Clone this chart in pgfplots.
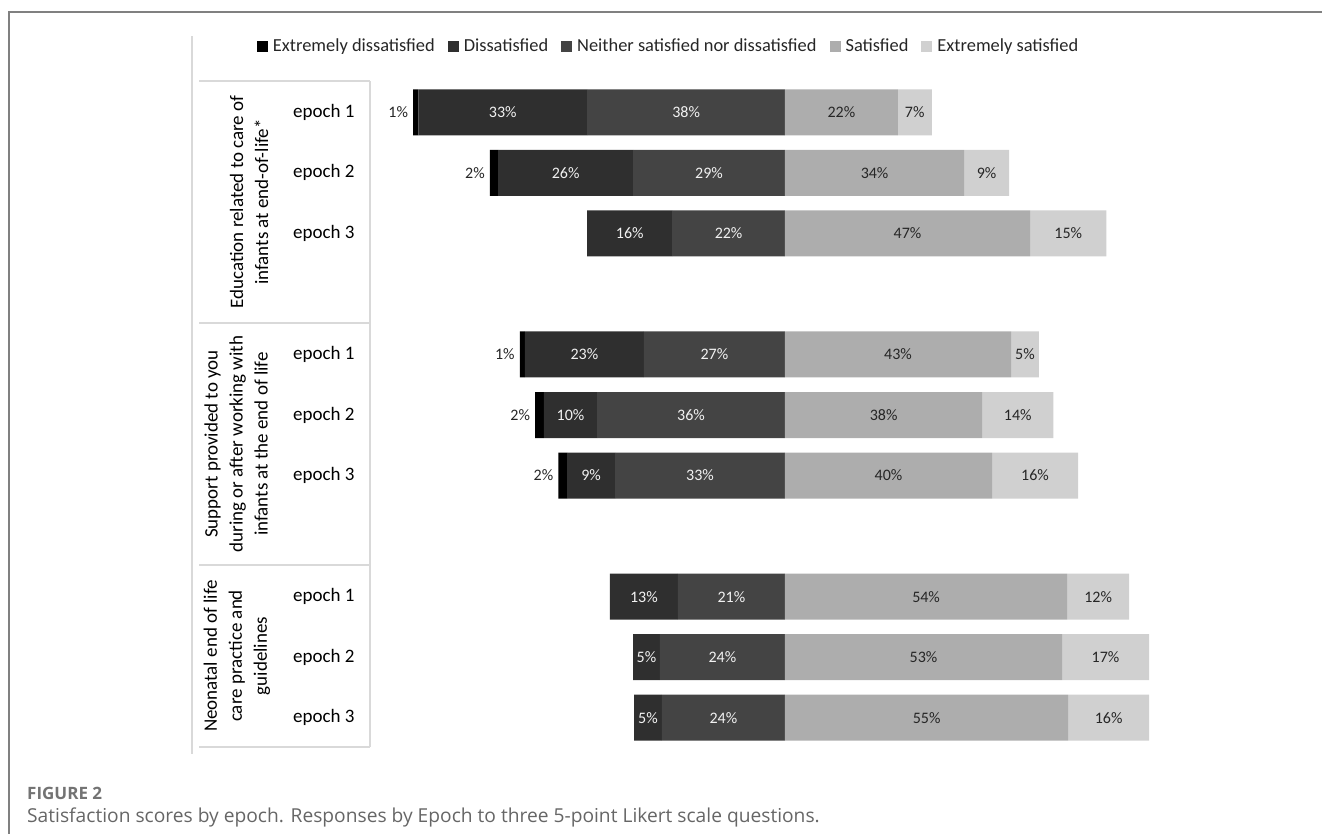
\documentclass[border=0pt]{standalone}
\usepackage{fontspec}
\setmainfont{Carlito}
\newfontfamily\capfont{Open Sans}
\usepackage{pgfplots}
\usepackage{pgfplotstable}
\pgfplotsset{compat=1.18}

\definecolor{cExd}{HTML}{000000}
\definecolor{cDis}{HTML}{2F2F2F}
\definecolor{cNei}{HTML}{444444}
\definecolor{cSat}{HTML}{ADADAD}
\definecolor{cExs}{HTML}{D0D0D0}
\definecolor{cLine}{HTML}{D9D9D9}
\definecolor{cFrame}{HTML}{808080}
\definecolor{cLightTxt}{HTML}{F2F2F2}
\definecolor{cDarkTxt}{HTML}{262626}

\pgfplotstableread{
row exd dis nei sat exs
0 1.0 32.8 38.4 21.9 6.6
1 1.6 26.2 29.5 34.8 8.7
2 0 16.5 21.9 47.6 14.8
4 1.0 23.1 27.4 43.9 5.4
5 1.7 10.3 36.5 38.3 13.8
6 1.7 9.3 33.0 40.2 16.7
8 0 13.2 20.8 54.8 12.0
9 0 5.2 24.3 53.8 16.9
10 0 5.4 23.9 55.0 15.7
}\datatable

\pgfplotsset{base/.style={
  scale only axis, width=780pt, height=666pt,
  at={(380pt,86pt)}, anchor=south west,
  xmin=-78.64, xmax=72.82, ymin=-0.5, ymax=10.5, y dir=reverse,
  axis line style={draw=none}, xtick=\empty, ytick=\empty, major tick length=0pt,
  clip=false,
}}

\begin{document}
\begin{tikzpicture}
\useasboundingbox (0pt,0pt) rectangle (1322pt,834pt);
% frame
\draw[cFrame, line width=1.2pt] (9pt,0pt) -- (9pt,822pt) -- (1322pt,822pt);
% table lines
\draw[cLine, line width=1.3pt] (192pt,80pt) -- (192pt,798pt);
\draw[cLine, line width=1.3pt] (370pt,87pt) -- (370pt,753pt);
\draw[cLine, line width=1.3pt] (199pt,753pt) -- (370pt,753pt);
\draw[cLine, line width=1.3pt] (199pt,511pt) -- (370pt,511pt);
\draw[cLine, line width=1.3pt] (199pt,269pt) -- (370pt,269pt);
\draw[cLine, line width=1.3pt] (199pt,87pt) -- (370pt,87pt);

% group labels
\node[rotate=90, align=center, font=\fontsize{19}{25}\selectfont] at (249pt,632pt)
  {Education related to care of\\infants at end-of-life*};
\node[rotate=90, align=center, font=\fontsize{19}{25}\selectfont] at (236pt,390pt)
  {Support provided to you\\during or after working with\\infants at the end of life};
\node[rotate=90, align=center, font=\fontsize{19}{25}\selectfont] at (237pt,178pt)
  {Neonatal end of life\\care practice and\\guidelines};

% caption
\node[anchor=base west, inner sep=0pt, font=\capfont\bfseries\fontsize{17}{19}\selectfont, text=black!55] at (27pt,34pt) {FIGURE 2};
\node[anchor=base west, inner sep=0pt, font=\capfont\fontsize{19.2}{22}\selectfont, text=black!60] at (27pt,11pt)
  {Satisfaction scores by epoch. Responses by Epoch to three 5-point Likert scale questions.};

% negative side
\begin{axis}[base, xbar stacked, bar width=46pt]
\addplot[fill=cNei, draw=none] table[x expr=-\thisrow{nei}, y=row]{\datatable};
\addplot[fill=cDis, draw=none] table[x expr=-\thisrow{dis}, y=row]{\datatable};
\addplot[fill=cExd, draw=none] table[x expr=-\thisrow{exd}, y=row]{\datatable};
\end{axis}

% positive side
\begin{axis}[base, xbar stacked, bar width=46pt]
\addplot[fill=cSat, draw=none] table[x=sat, y=row]{\datatable};
\addplot[fill=cExs, draw=none] table[x=exs, y=row]{\datatable};
\end{axis}

% labels, ticks, legend
\begin{axis}[base,
  ytick={0,1,2,4,5,6,8,9,10},
  yticklabels={epoch 1,epoch 2,epoch 3,epoch 1,epoch 2,epoch 3,epoch 1,epoch 2,epoch 3},
  yticklabel style={font=\fontsize{19}{22}\selectfont, text=black, xshift=-22pt},
  legend columns=5,
  legend image code/.code={\fill[#1, draw=none] (0pt,-5.5pt) rectangle (11pt,5.5pt);},
  legend style={at={(0.370,1.054)}, anchor=center, draw=none, fill=none,
    font=\fontsize{18.4}{22}\selectfont, text=cDarkTxt,
    /tikz/every odd column/.append style={column sep=3pt},
    /tikz/every even column/.append style={column sep=11pt}},
]
\addlegendimage{fill=cExd, draw=none}
\addlegendentry{Extremely dissatisfied}
\addlegendimage{fill=cDis, draw=none}
\addlegendentry{Dissatisfied}
\addlegendimage{fill=cNei, draw=none}
\addlegendentry{Neither satisfied nor dissatisfied}
\addlegendimage{fill=cSat, draw=none}
\addlegendentry{Satisfied}
\addlegendimage{fill=cExs, draw=none}
\addlegendentry{Extremely satisfied}

\addplot[draw=none, mark=none, forget plot, nodes near coords, point meta=explicit symbolic,
  every node near coord/.style={anchor=center, text=cLightTxt, font=\fontsize{16}{18}\selectfont}]
coordinates {
(-54.8,0)[33\%] (-19.2,0)[38\%]
(-42.6,1)[26\%] (-14.75,1)[29\%]
(-30.15,2)[16\%] (-10.95,2)[22\%]
(-38.95,4)[23\%] (-13.7,4)[27\%]
(-41.65,5)[10\%] (-18.25,5)[36\%]
(-37.65,6)[9\%] (-16.5,6)[33\%]
(-27.4,8)[13\%] (-10.4,8)[21\%]
(-26.9,9)[5\%] (-12.15,9)[24\%]
(-26.6,10)[5\%] (-11.95,10)[24\%]
};
\addplot[draw=none, mark=none, forget plot, nodes near coords, point meta=explicit symbolic,
  every node near coord/.style={anchor=center, text=cDarkTxt, font=\fontsize{16}{18}\selectfont}]
coordinates {
(10.95,0)[22\%] (25.2,0)[7\%]
(17.4,1)[34\%] (39.15,1)[9\%]
(23.8,2)[47\%] (55.0,2)[15\%]
(21.95,4)[43\%] (46.6,4)[5\%]
(19.15,5)[38\%] (45.2,5)[14\%]
(20.1,6)[40\%] (48.55,6)[16\%]
(27.4,8)[54\%] (60.8,8)[12\%]
(26.9,9)[53\%] (62.25,9)[17\%]
(27.5,10)[55\%] (62.85,10)[16\%]
};
\addplot[draw=none, mark=none, forget plot, nodes near coords, point meta=explicit symbolic,
  every node near coord/.style={anchor=east, inner sep=2pt, xshift=-3pt, text=cDarkTxt, font=\fontsize{16}{18}\selectfont}]
coordinates {
(-72.2,0)[1\%] (-57.3,1)[2\%] (-51.5,4)[1\%] (-48.5,5)[2\%] (-44.0,6)[2\%]
};
\end{axis}
\end{tikzpicture}
\end{document}
